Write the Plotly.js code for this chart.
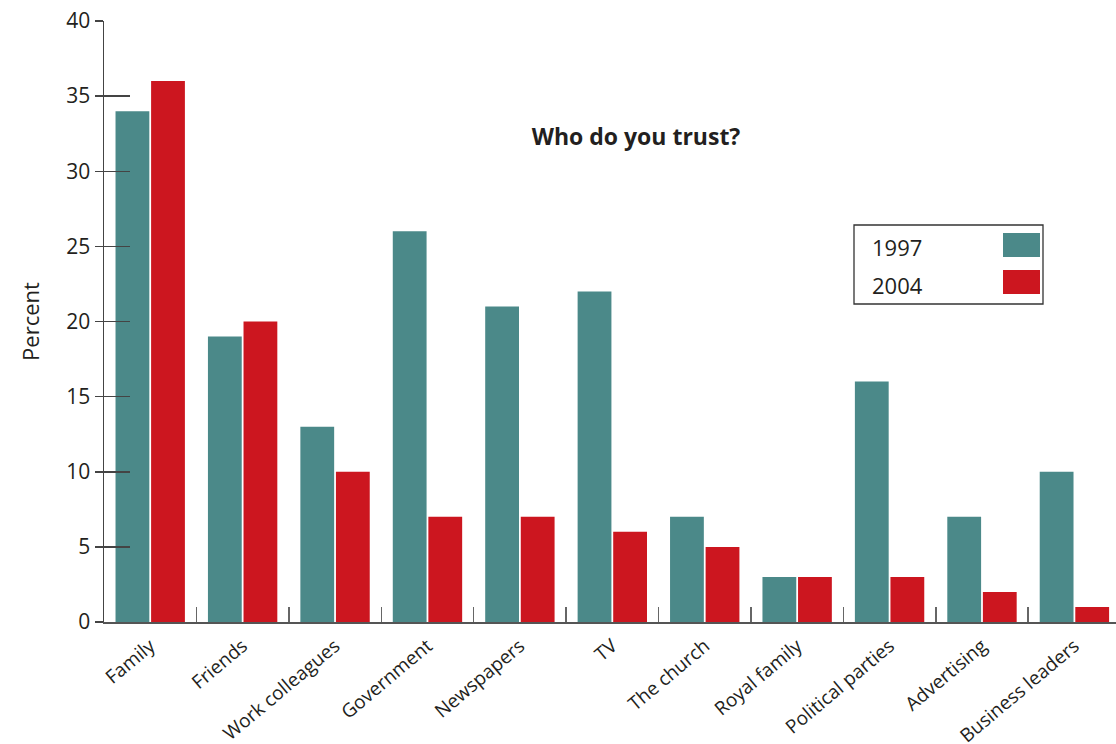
<!DOCTYPE html>
<html>
<head>
<meta charset="utf-8">
<script src="https://cdn.plot.ly/plotly-3.0.1.min.js"></script>
<style>html,body{margin:0;padding:0;background:#fff;}#chart{width:1116px;height:744px;}</style>
</head>
<body>
<div id="chart"></div>
<script>
var categories = ["Family","Friends","Work colleagues","Government","Newspapers","TV","The church","Royal family","Political parties","Advertising","Business leaders"];
var seriesNames = ["1997","2004"];
var values1997 = [34,19,13,26,21,22,7,3,16,7,10];
var values2004 = [36,20,10,7,7,6,5,3,3,2,1];
var yTicks = [0,5,10,15,20,25,30,35,40];
var colors = ["#4b8989","#cc161f"];
var FONT = "Open Sans, Noto Sans, sans-serif";
var TXT = "#231f20";

var traces = [
  {type:"bar", name:seriesNames[0], x:categories, y:values1997, marker:{color:colors[0]}, showlegend:false},
  {type:"bar", name:seriesNames[1], x:categories, y:values2004, marker:{color:colors[1]}, showlegend:false},
  {type:"scatter", x:[categories[0]], y:[0], yaxis:"y2", mode:"markers", marker:{opacity:0}, showlegend:false, hoverinfo:"skip"}
];

var L = 104, T = 21, W = 1116, H = 744, B = 122;
var pw = W - L, ph = H - T - B;
function px(x){ return (x - L)/pw; }
function py(y){ return (T + ph - y)/ph; }

var shapes = [
  {type:"rect", xref:"paper", yref:"paper", x0:px(854), x1:px(1043), y0:py(304), y1:py(225), line:{color:"#333", width:1.3}, fillcolor:"rgba(0,0,0,0)"},
  {type:"rect", xref:"paper", yref:"paper", x0:px(1003), x1:px(1040), y0:py(257), y1:py(233), line:{width:0}, fillcolor:colors[0]},
  {type:"rect", xref:"paper", yref:"paper", x0:px(1003), x1:px(1040), y0:py(294), y1:py(270), line:{width:0}, fillcolor:colors[1]}
];
var annotations = [
  {xref:"paper", yref:"paper", x:px(870), y:py(247), xanchor:"left", yanchor:"middle", text:seriesNames[0], showarrow:false, font:{family:FONT, size:22, color:TXT}},
  {xref:"paper", yref:"paper", x:px(870), y:py(285), xanchor:"left", yanchor:"middle", text:seriesNames[1], showarrow:false, font:{family:FONT, size:22, color:TXT}}
];

var layout = {
  width:W, height:H,
  margin:{l:L, r:0, t:T, b:B},
  paper_bgcolor:"#fff", plot_bgcolor:"#fff",
  font:{family:FONT, color:TXT},
  title:{text:"<b>Who do you trust?</b>", x:636/W, xanchor:"center", y:1-137/H, yanchor:"middle", font:{family:FONT, size:23, color:TXT}},
  barmode:"group", bargap:0.23, bargroupgap:0.05,
  xaxis:{type:"category", range:[-0.5,10.45], showgrid:false, zeroline:false, showline:true, linecolor:"#555", linewidth:1.5,
         ticks:"inside", tickson:"boundaries", ticklen:15, tickwidth:1.5, tickcolor:"#666", tickangle:-40,
         ticklabelstandoff:4, tickfont:{family:FONT, size:19, color:TXT}},
  yaxis:{range:[0,40], tickvals:yTicks, showgrid:false, zeroline:false, showline:true, linecolor:"#444", linewidth:1.5,
         ticks:"outside", ticklen:8, tickwidth:1.5, tickcolor:"#444", tickfont:{family:FONT, size:21, color:TXT},
         title:{text:"Percent", font:{family:FONT, size:22, color:TXT}, standoff:20}},
  yaxis2:{range:[0,40], overlaying:"y", side:"left", tickvals:yTicks, showgrid:false, zeroline:false, showline:false,
          ticks:"inside", ticklen:26, tickwidth:1.5, tickcolor:"#444", showticklabels:false},
  shapes:shapes, annotations:annotations, showlegend:false
};
Plotly.newPlot("chart", traces, layout, {displayModeBar:false, staticPlot:true});
</script>
</body>
</html>
